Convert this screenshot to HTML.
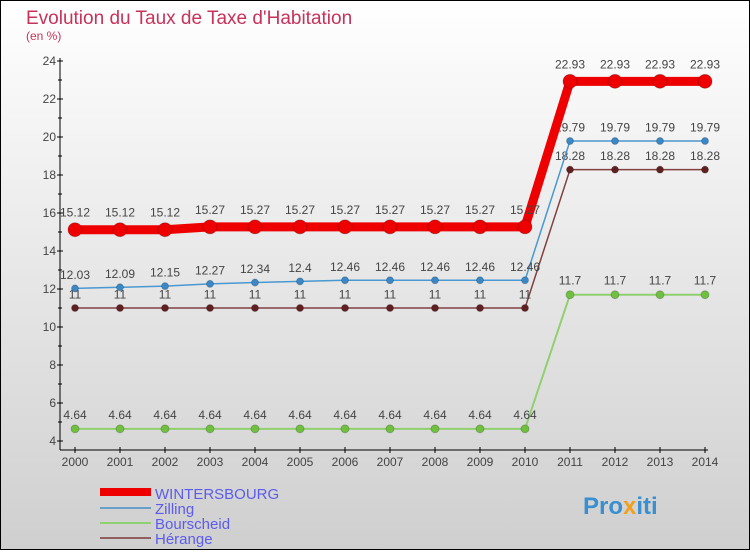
<!DOCTYPE html>
<html><head><meta charset="utf-8"><style>
body{margin:0;width:750px;height:550px;overflow:hidden}
svg text{font-family:"Liberation Sans",sans-serif}
</style></head><body>
<svg id="c" width="750" height="550" xmlns="http://www.w3.org/2000/svg">
<defs><linearGradient id="bg" x1="0" y1="0" x2="0" y2="1"><stop offset="0" stop-color="#ffffff"/><stop offset="1" stop-color="#cfcfcf"/></linearGradient></defs>
<rect x="0.5" y="0.5" width="749" height="549" fill="url(#bg)" stroke="#000"/>
<text x="26" y="24" font-size="19" fill="#c8325a">Evolution du Taux de Taxe d'Habitation</text>
<text x="26" y="40" font-size="12" fill="#c8325a">(en %)</text>
<g id="axes"></g><g id="series"></g>
<g>
<rect x="100" y="488" width="51" height="8" fill="#e00"/>
<text x="155" y="499" font-size="15" fill="#5b5bf0">WINTERSBOURG</text>
<rect x="100" y="507" width="51" height="2" fill="#6aa0c8"/>
<text x="155" y="514" font-size="15" fill="#5b5bf0">Zilling</text>
<rect x="100" y="522" width="51" height="2" fill="#90d070"/>
<text x="155" y="529" font-size="15" fill="#5b5bf0">Bourscheid</text>
<rect x="100" y="537" width="51" height="2" fill="#906060"/>
<text x="155" y="544" font-size="15" fill="#5b5bf0">Hérange</text>
</g>
<text x="583" y="514" font-size="24" font-weight="bold" fill="#3a8fd0">Pro<tspan fill="#f0a020">x</tspan>iti</text>
</svg>
<script>
const years=[2000,2001,2002,2003,2004,2005,2006,2007,2008,2009,2010,2011,2012,2013,2014];
const wintersbourg=[15.12,15.12,15.12,15.27,15.27,15.27,15.27,15.27,15.27,15.27,15.27,22.93,22.93,22.93,22.93];
const zilling=[12.03,12.09,12.15,12.27,12.34,12.4,12.46,12.46,12.46,12.46,12.46,19.79,19.79,19.79,19.79];
const bourscheid=[4.64,4.64,4.64,4.64,4.64,4.64,4.64,4.64,4.64,4.64,4.64,11.7,11.7,11.7,11.7];
const herange=[11,11,11,11,11,11,11,11,11,11,11,18.28,18.28,18.28,18.28];
const yTicks=[4,6,8,10,12,14,16,18,20,22,24];
const NS="http://www.w3.org/2000/svg";
const X=i=>75+i*45, Y=v=>441-(v-4)*19;
function mk(t,a,p){const e=document.createElementNS(NS,t);for(const k in a)e.setAttribute(k,a[k]);p.appendChild(e);return e;}
const ax=document.getElementById('axes'), sg=document.getElementById('series');
let l=mk('line',{x1:60,y1:58,x2:60,y2:450,stroke:'#000'},ax);


l=mk('line',{x1:60,y1:450,x2:708,y2:450,stroke:'#000'},ax);


for(let v=5;v<24;v+=2){mk('line',{x1:58,y1:Y(v),x2:62,y2:Y(v),stroke:'#000'},ax);}
yTicks.forEach(v=>{mk('line',{x1:57,y1:Y(v),x2:63,y2:Y(v),stroke:'#000'},ax);
 const t=mk('text',{x:56,y:Y(v)+4,'font-size':12,fill:'#444','text-anchor':'end'},ax);t.textContent=v;
 
 });
years.forEach((y,i)=>{mk('line',{x1:X(i),y1:447,x2:X(i),y2:453,stroke:'#000'},ax);
 const t=mk('text',{x:X(i),y:466,'font-size':12,fill:'#444','text-anchor':'middle'},ax);t.textContent=y;
 
 });
function draw(vals,name,col,w,r,dot){
 const g=mk('g',{},sg);
 
 
 mk('polyline',{points:vals.map((v,i)=>X(i)+','+Y(v)).join(' '),fill:'none',stroke:col,'stroke-width':w,'stroke-linejoin':'round'},g);
 vals.forEach((v,i)=>{const c=mk('circle',{cx:X(i),cy:Y(v),r:r,fill:dot,stroke:'rgba(0,0,0,0.2)'},g);
  
  
  const t=mk('text',{x:X(i),y:Y(v)-r-6,'font-size':12,fill:'#444','text-anchor':'middle'},g);t.textContent=v;
  
  });
}
draw(bourscheid,'bourscheid','#90d070',2,4,'#70c040');
draw(herange,'herange','#804040',1.5,3.5,'#602020');
draw(zilling,'zilling','#4a98d0',1.5,3.5,'#3a88c8');
draw(wintersbourg,'wintersbourg','#ee0000',9,7,'#ee0000');
</script>
</body></html>
